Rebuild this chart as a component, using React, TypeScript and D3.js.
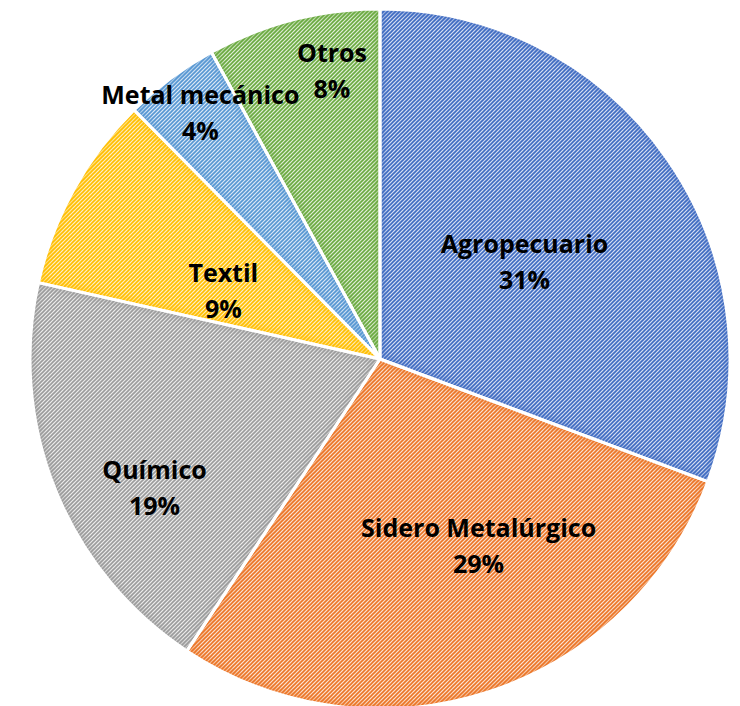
import React from "react";
import * as d3 from "d3";

const categories = ["Agropecuario", "Sidero Metalúrgico", "Químico", "Textil", "Metal mecánico", "Otros"];
const values = [30.7, 28.6, 19.2, 9.1, 4.4, 8.0];
const percentLabels = ["31%", "29%", "19%", "9%", "4%", "8%"];
const lineColors = ["#3F6CC2", "#EC7627", "#9C9C9C", "#FFBF00", "#5797D3", "#6BAA41"];
const bgColors = ["#D7DEF3", "#FBE2D3", "#EDEDED", "#FFF0C7", "#DCE9F6", "#E1EFD8"];
// label placement: fraction of radius and angular nudge (degrees)
const labelRadius = [0.5, 0.6, 0.74, 0.49, 0.875, 0.84];
const labelNudge = [0.4, -10, -7.5, -5, 0.8, 5];

const W = 740;
const H = 706;
const CX = 380;
const CY = 359;
const R = 350;

export default function App() {
  const pie = d3.pie<number>().sort(null).value((d) => d).startAngle(0).endAngle(2 * Math.PI);
  const arcs = pie(values);
  const arcGen = d3.arc<d3.PieArcDatum<number>>().innerRadius(0).outerRadius(R);

  return (
    <div style={{ position: "absolute", left: 0, top: 0 }}>
      <svg width={W} height={H} viewBox={`0 0 ${W} ${H}`} style={{ display: "block" }}>
        <defs>
          {lineColors.map((c, i) => (
            <pattern key={i} id={`pat${i}`} patternUnits="userSpaceOnUse" width={4} height={4}>
              <rect width={4} height={4} fill={bgColors[i]} />
              <path d="M-1,1 L1,-1 M0,4 L4,0 M3,5 L5,3" stroke={c} strokeWidth={1.6} />
            </pattern>
          ))}
          {arcs.map((a, i) => (
            <clipPath key={i} id={`clip${i}`}>
              <path d={arcGen(a) || ""} />
            </clipPath>
          ))}
          <filter id="soft" x="-10%" y="-10%" width="120%" height="120%">
            <feGaussianBlur stdDeviation={2.5} />
          </filter>
        </defs>
        <g transform={`translate(${CX},${CY})`}>
          {arcs.map((a, i) => (
            <g key={i}>
              <path d={arcGen(a) || ""} fill={`url(#pat${i})`} />
              <g clipPath={`url(#clip${i})`}>
                <path
                  d={arcGen(a) || ""}
                  fill="none"
                  stroke={lineColors[i]}
                  strokeWidth={10}
                  opacity={0.45}
                  filter="url(#soft)"
                />
              </g>
            </g>
          ))}
          {arcs.map((a, i) => (
            <path key={`s${i}`} d={arcGen(a) || ""} fill="none" stroke="#fff" strokeWidth={3} strokeLinejoin="round" />
          ))}
          {arcs.map((a, i) => {
            const mid = (a.startAngle + a.endAngle) / 2 + (labelNudge[i] * Math.PI) / 180;
            const r = R * labelRadius[i];
            const x = r * Math.sin(mid);
            const y = -r * Math.cos(mid);
            return (
              <text
                key={`t${i}`}
                x={x}
                y={y}
                textAnchor="middle"
                fontFamily="'Open Sans', sans-serif"
                fontWeight="bold"
                fontSize={25}
                fill="#000"
              >
                <tspan x={x} dy="-0.28em">{categories[i]}</tspan>
                <tspan x={x} dy="1.44em">{percentLabels[i]}</tspan>
              </text>
            );
          })}
        </g>
      </svg>
    </div>
  );
}
